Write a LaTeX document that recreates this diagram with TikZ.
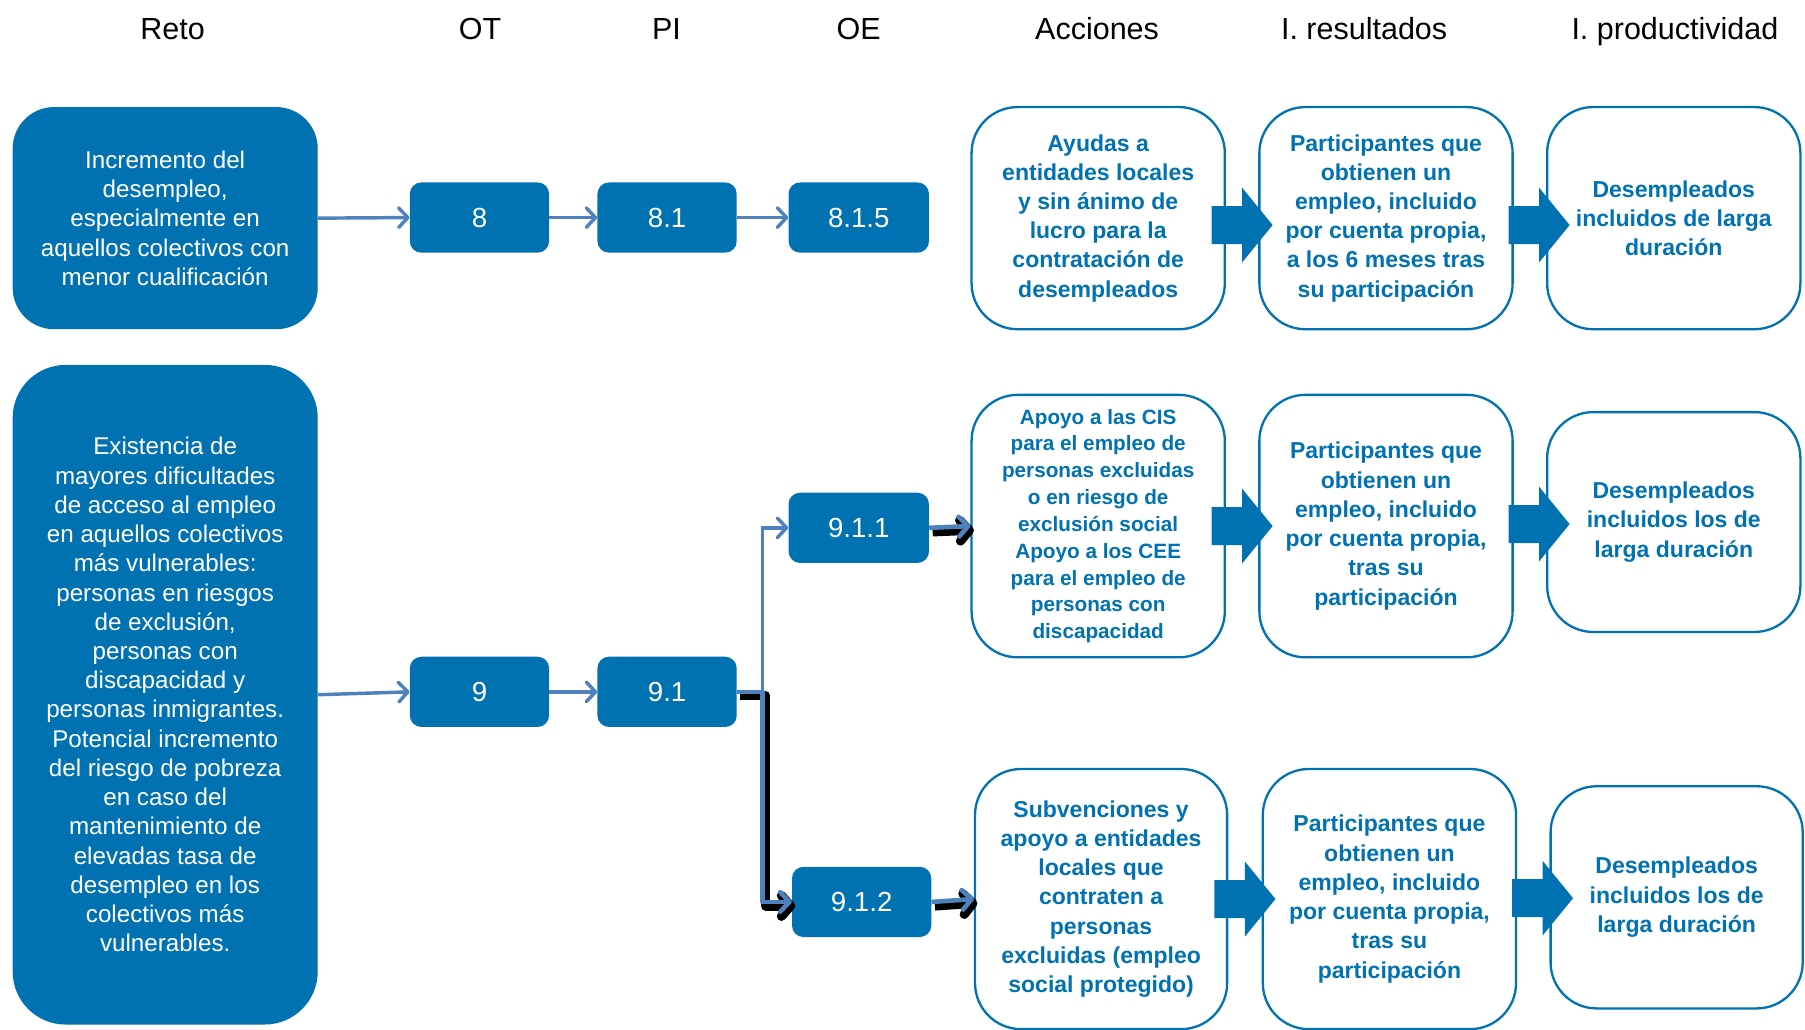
\documentclass[tikz,border=0pt]{standalone}
\usepackage{fontspec}
\setmainfont{Liberation Sans}
\usetikzlibrary{arrows.meta,calc}
\definecolor{boxblue}{HTML}{0072B2}
\definecolor{lineblue}{HTML}{4F81BD}
\begin{document}
\begin{tikzpicture}[x=1pt,y=-1pt,
  hdr/.style={font=\fontsize{26.5}{30}\selectfont, anchor=base, inner sep=0pt},
  retobox/.style={fill=boxblue, draw=none, text=white, align=center, inner sep=0pt, minimum width=265pt, font=\fontsize{21}{25.4}\selectfont},
  numbox/.style={fill=boxblue, rounded corners=10pt, text=white, minimum width=121pt, minimum height=61pt, inner sep=0pt, font=\fontsize{24}{28}\selectfont},
  wbox/.style={draw=boxblue, line width=2pt, fill=white, rounded corners=40pt, text=boxblue, align=center, inner sep=0pt, minimum width=220pt, font=\bfseries\fontsize{20}{25.4}\selectfont},
  conn/.style={draw=lineblue, line width=3pt, -{Straight Barb[length=8pt,width=17pt,round]}},
  shadowk/.style={draw=black, line width=8pt, line join=round, -{Straight Barb[length=8pt,width=18pt,round]}},
  shadowb/.style={draw=lineblue, line width=4pt, line join=round, -{Straight Barb[length=8pt,width=17pt,round]}},
  barrow/.pic={\fill[boxblue] (-26.5,-16.5) -- (0,-16.5) -- (0,-32.5) -- (26.5,0) -- (0,32.5) -- (0,16.5) -- (-26.5,16.5) -- cycle;}
]
\useasboundingbox (0,0) rectangle (1568,894);

% headers
\node[hdr] (hReto) at (150,34) {Reto};
\node[hdr] (hOT) at (417,34) {OT};
\node[hdr] (hPI) at (579,34) {PI};
\node[hdr] (hOE) at (746,34) {OE};
\node[hdr] (hAcc) at (953,34) {Acciones};
\node[hdr] (hRes) at (1185,34) {I. resultados};
\node[hdr] (hProd) at (1455,34) {I. productividad};

% top row
\node[retobox, rounded corners=36pt, minimum height=193pt] (reto1) at (143.5,189.5)
  {Incremento del\\desempleo,\\especialmente en\\aquellos colectivos con\\menor cualificación};
\node[numbox] (n8) at (416.5,189) {8};
\node[numbox] (n81) at (579.5,189) {8.1};
\node[numbox, minimum width=122pt] (n815) at (746,189) {8.1.5};
\draw[conn] (reto1.east) -- (n8.west);
\draw[conn] (n8.east) -- (n81.west);
\draw[conn] (n81.east) -- (n815.west);

\node[wbox, minimum height=193pt] (a1) at (954,189.5)
  {Ayudas a\\entidades locales\\y sin ánimo de\\lucro para la\\contratación de\\desempleados};
\node[wbox, minimum height=193pt] (r1) at (1204,189.5)
  {Participantes que\\obtienen un\\empleo, incluido\\por cuenta propia,\\a los 6 meses tras\\su participación};
\node[wbox, minimum height=193pt] (p1) at (1454,189.5)
  {Desempleados\\incluidos de larga\\duración};

% middle / bottom rows
\node[retobox, rounded corners=46pt, minimum height=573pt] (reto2) at (143.5,603.5)
  {Existencia de\\mayores dificultades\\de acceso al empleo\\en aquellos colectivos\\más vulnerables:\\personas en riesgos\\de exclusión,\\personas con\\discapacidad y\\personas inmigrantes.\\Potencial incremento\\del riesgo de pobreza\\en caso del\\mantenimiento de\\elevadas tasa de\\desempleo en los\\colectivos más\\vulnerables.};
\node[numbox] (n9) at (416.5,601) {9};
\node[numbox] (n91) at (579.5,601) {9.1};
\node[numbox, minimum width=122pt] (n911) at (746,458.5) {9.1.1};
\node[numbox] (n912) at (748.5,783.5) {9.1.2};

\draw[conn] (reto2.east) -- (n9.west);
\draw[conn] (n9.east) -- (n91.west);
\draw[conn] (n91.east) -- ++(22,0) |- (n911.west);
\draw[shadowk] ([shift={(3,3.5)}]n91.east) -- ++(22,0) |- ([shift={(3,3.5)}]n912.west);
\draw[shadowb] (n91.east) -- ++(22,0) |- (n912.west);

\node[wbox, minimum height=228pt, font=\bfseries\fontsize{18}{23.3}\selectfont] (a2) at (954,457)
  {Apoyo a las CIS\\para el empleo de\\personas excluidas\\o en riesgo de\\exclusión social\\Apoyo a los CEE\\para el empleo de\\personas con\\discapacidad};
\node[wbox, minimum height=228pt] (r2) at (1204,457)
  {Participantes que\\obtienen un\\empleo, incluido\\por cuenta propia,\\tras su\\participación};
\node[wbox, minimum height=191pt] (p2) at (1454,453.5)
  {Desempleados\\incluidos los de\\larga duración};

\node[wbox, minimum width=219pt, minimum height=226pt] (a3) at (956.5,781)
  {Subvenciones y\\apoyo a entidades\\locales que\\contraten a\\personas\\excluidas (empleo\\social protegido)};
\node[wbox, minimum height=226pt] (r3) at (1207,781)
  {Participantes que\\obtienen un\\empleo, incluido\\por cuenta propia,\\tras su\\participación};
\node[wbox, minimum width=219pt, minimum height=193pt] (p3) at (1456.5,779.5)
  {Desempleados\\incluidos los de\\larga duración};

\draw[shadowk] ([shift={(3,3.5)}]n911.east) -- ([shift={(3,3.5)}]a2.west);
\draw[shadowb] (n911.east) -- (a2.west);
\draw[shadowk] ([shift={(3,3.5)}]n912.east) -- ([shift={(3,3.5)}]a3.west);
\draw[shadowb] (n912.east) -- (a3.west);

% block arrows between boxes
\coordinate (b1) at ($(a1.east)!0.5!(r1.west)+(0,6)$);
\coordinate (b2) at ($(r1.east)!0.5!(p1.west)+(8,6)$);
\coordinate (b3) at ($(a2.east)!0.5!(r2.west)$);
\coordinate (b4) at ($(r2.east)!0.5!(p2.west)+(8,0)$);
\coordinate (b5) at ($(a3.east)!0.5!(r3.west)$);
\coordinate (b6) at ($(r3.east)!0.5!(p3.west)+(8,0)$);
\pic at (b1) {barrow};
\pic at (b2) {barrow};
\pic at (b3) {barrow};
\pic at (b4) {barrow};
\pic at (b5) {barrow};
\pic at (b6) {barrow};
\end{tikzpicture}
\end{document}
